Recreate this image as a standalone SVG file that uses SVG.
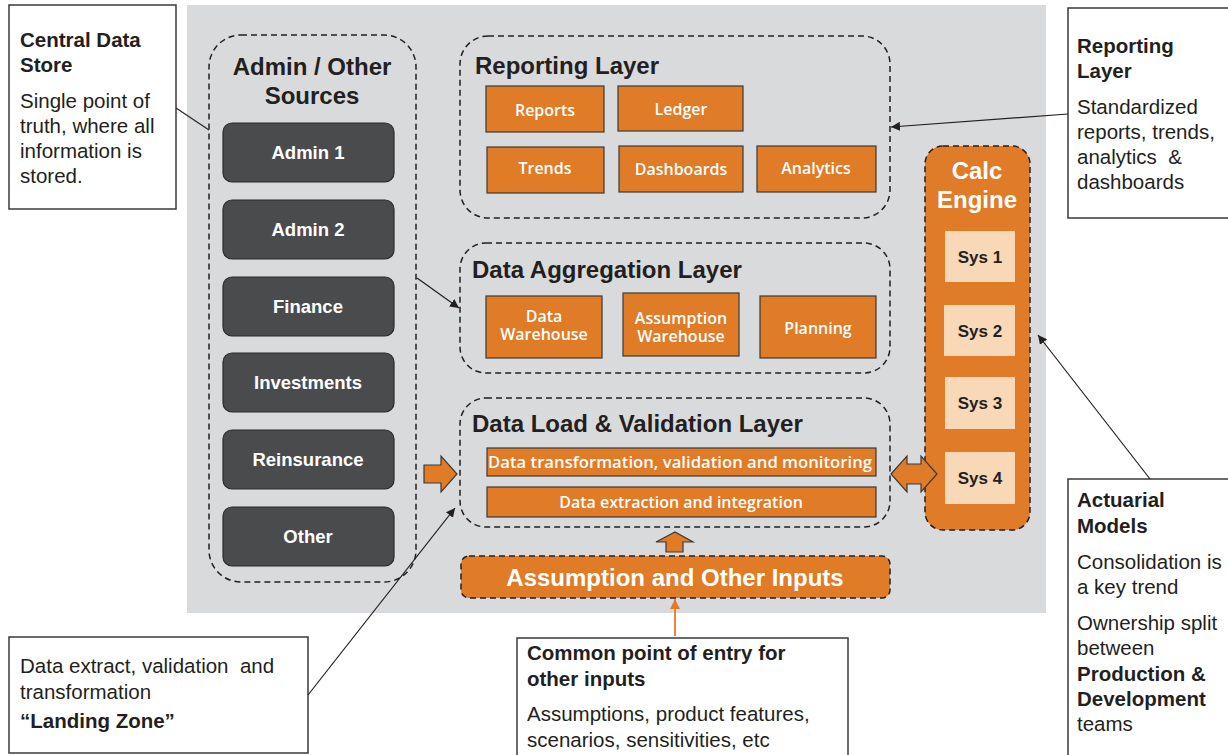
<svg xmlns="http://www.w3.org/2000/svg" width="1228" height="755" viewBox="0 0 1228 755">
<defs>
<marker id="ah" viewBox="0 0 10 10" refX="10" refY="5" markerWidth="9" markerHeight="9" markerUnits="userSpaceOnUse" orient="auto"><path d="M0,0 L10,5 L0,10 z" fill="#231f20"/></marker>
<marker id="ahO" viewBox="0 0 10 10" refX="10" refY="5" markerWidth="10" markerHeight="10" markerUnits="userSpaceOnUse" orient="auto"><path d="M0,0 L10,5 L0,10 z" fill="#e07b27"/></marker>
<style>
.dash{fill:none;stroke:#231f20;stroke-width:1.5;stroke-dasharray:6 4}
.dark{fill:#4a4b4d;stroke:#2b2b2b;stroke-width:1.2}
.dk{font-family:"Liberation Sans",Arial,sans-serif;font-weight:bold;font-size:18.5px;fill:#fff;text-anchor:middle}
.org{fill:#e07b27;stroke:#3a3a3a;stroke-width:1.2}
.ot{font-family:"Open Sans","Noto Sans",sans-serif;font-weight:600;font-size:16px;fill:#fff;text-anchor:middle}
.ttl{font-family:"Liberation Sans",Arial,sans-serif;font-weight:bold;font-size:24px;fill:#231f20}
.sys{fill:#f8d8b7}
.st{font-family:"Liberation Sans",Arial,sans-serif;font-weight:bold;font-size:17px;fill:#231f20;text-anchor:middle}
.cb{fill:#fff;stroke:#3a3a3a;stroke-width:1.5}
.cn{font-family:"Liberation Sans",Arial,sans-serif;font-size:20.5px;fill:#231f20}
.cbld{font-family:"Liberation Sans",Arial,sans-serif;font-size:20.5px;font-weight:bold;fill:#231f20}
.ln{fill:none;stroke:#231f20;stroke-width:1.2}
.blk{fill:#e07b27;stroke:#3a3a3a;stroke-width:1.2}
</style>
</defs>
<rect x="0" y="0" width="1228" height="755" fill="#fff"/>
<rect id="background" x="187" y="5" width="859" height="608" fill="#d9dadc"/>

<g id="admin-sources">
<rect class="dash" x="209" y="35" width="207" height="547" rx="32"/>
<text class="ttl" x="312" y="75" text-anchor="middle">Admin / Other</text>
<text class="ttl" x="312" y="104" text-anchor="middle">Sources</text>
</g>
<g id="admin1"><rect class="dark" x="223" y="123" width="171" height="59" rx="9"/><text class="dk" x="308" y="159">Admin 1</text></g>
<g id="admin2"><rect class="dark" x="223" y="200" width="171" height="59" rx="9"/><text class="dk" x="308" y="236">Admin 2</text></g>
<g id="finance"><rect class="dark" x="223" y="277" width="171" height="59" rx="9"/><text class="dk" x="308" y="313">Finance</text></g>
<g id="investments"><rect class="dark" x="223" y="353" width="171" height="59" rx="9"/><text class="dk" x="308" y="389">Investments</text></g>
<g id="reinsurance"><rect class="dark" x="223" y="430" width="171" height="59" rx="9"/><text class="dk" x="308" y="466">Reinsurance</text></g>
<g id="other"><rect class="dark" x="223" y="507" width="171" height="59" rx="9"/><text class="dk" x="308" y="543">Other</text></g>

<g id="reporting-layer">
<rect class="dash" x="460" y="36" width="430" height="182" rx="28"/>
<text class="ttl" x="475" y="74">Reporting Layer</text>
</g>
<g id="reports"><rect class="org" x="486" y="86" width="118" height="46"/><text class="ot" x="545" y="116">Reports</text></g>
<g id="ledger"><rect class="org" x="618" y="86" width="125" height="45"/><text class="ot" x="681" y="115">Ledger</text></g>
<g id="trends"><rect class="org" x="487" y="147" width="117" height="46"/><text class="ot" x="545" y="174">Trends</text></g>
<g id="dashboards"><rect class="org" x="619" y="146" width="124" height="46"/><text class="ot" x="681" y="175">Dashboards</text></g>
<g id="analytics"><rect class="org" x="757" y="146" width="119" height="46"/><text class="ot" x="816" y="174">Analytics</text></g>

<g id="aggregation-layer">
<rect class="dash" x="460" y="243" width="430" height="130" rx="26"/>
<text class="ttl" x="472" y="278">Data Aggregation Layer</text>
</g>
<g id="data-warehouse"><rect class="org" x="486" y="296" width="116" height="62"/><text class="ot" x="544" y="322">Data<tspan x="544" dy="18">Warehouse</tspan></text></g>
<g id="assumption-warehouse"><rect class="org" x="623" y="293" width="116" height="63"/><text class="ot" x="681" y="324">Assumption<tspan x="681" dy="18">Warehouse</tspan></text></g>
<g id="planning"><rect class="org" x="760" y="296" width="116" height="62"/><text class="ot" x="818" y="334">Planning</text></g>

<g id="load-layer">
<rect class="dash" x="460" y="398" width="430" height="129" rx="26"/>
<text class="ttl" x="472" y="432">Data Load &amp; Validation Layer</text>
</g>
<g id="transformation"><rect class="org" x="487" y="448" width="389" height="28"/><text class="ot" x="680" y="468" textLength="384" lengthAdjust="spacingAndGlyphs">Data transformation, validation and monitoring</text></g>
<g id="extraction"><rect class="org" x="487" y="487" width="389" height="30"/><text class="ot" x="681" y="508">Data extraction and integration</text></g>

<g id="assumption-inputs">
<rect x="461" y="556" width="429" height="42" rx="8" fill="#e07b27" stroke="#231f20" stroke-width="1.5" stroke-dasharray="6 4"/>
<text class="ttl" x="675" y="586" text-anchor="middle" style="fill:#fff">Assumption and Other Inputs</text>
</g>

<g id="calc-engine">
<rect x="925" y="146" width="105" height="384" rx="18" fill="#e07b27" stroke="#231f20" stroke-width="1.5" stroke-dasharray="6 4"/>
<text class="ttl" x="977" y="179" text-anchor="middle" style="fill:#fff">Calc</text>
<text class="ttl" x="977" y="208" text-anchor="middle" style="fill:#fff">Engine</text>
</g>
<g id="sys1"><rect class="sys" x="945" y="231" width="70" height="51"/><text class="st" x="980" y="263">Sys 1</text></g>
<g id="sys2"><rect class="sys" x="944" y="305" width="71" height="51"/><text class="st" x="980" y="337">Sys 2</text></g>
<g id="sys3"><rect class="sys" x="945" y="377" width="70" height="52"/><text class="st" x="980" y="409">Sys 3</text></g>
<g id="sys4"><rect class="sys" x="945" y="452" width="70" height="52"/><text class="st" x="980" y="484">Sys 4</text></g>

<g id="callout-central">
<rect class="cb" x="9" y="5" width="167" height="204"/>
<text class="cbld" x="20" y="47">Central Data</text>
<text class="cbld" x="20" y="72">Store</text>
<text class="cn" x="20" y="108">Single point of</text>
<text class="cn" x="20" y="133">truth, where all</text>
<text class="cn" x="20" y="158">information is</text>
<text class="cn" x="20" y="183">stored.</text>
</g>

<g id="callout-reporting">
<rect class="cb" x="1068" y="8" width="165" height="210"/>
<text class="cbld" x="1077" y="53">Reporting</text>
<text class="cbld" x="1077" y="78">Layer</text>
<text class="cn" x="1077" y="114">Standardized</text>
<text class="cn" x="1077" y="139">reports, trends,</text>
<text class="cn" x="1077" y="164" xml:space="preserve">analytics  &amp;</text>
<text class="cn" x="1077" y="189">dashboards</text>
</g>

<g id="callout-actuarial">
<rect class="cb" x="1068" y="479" width="165" height="282"/>
<text class="cbld" x="1077" y="507">Actuarial</text>
<text class="cbld" x="1077" y="533">Models</text>
<text class="cn" x="1077" y="569">Consolidation is</text>
<text class="cn" x="1077" y="594">a key trend</text>
<text class="cn" x="1077" y="630">Ownership split</text>
<text class="cn" x="1077" y="655">between</text>
<text class="cbld" x="1077" y="681">Production &amp;</text>
<text class="cbld" x="1077" y="706">Development</text>
<text class="cn" x="1077" y="731">teams</text>
</g>

<g id="callout-landing">
<rect class="cb" x="9" y="637" width="299" height="116"/>
<text class="cn" x="20" y="673" xml:space="preserve">Data extract, validation  and</text>
<text class="cn" x="20" y="699">transformation</text>
<text class="cbld" x="20" y="728">“Landing Zone”</text>
</g>

<g id="callout-common">
<rect class="cb" x="517" y="638" width="331" height="120"/>
<text class="cbld" x="527" y="660">Common point of entry for</text>
<text class="cbld" x="527" y="686">other inputs</text>
<text class="cn" x="527" y="721">Assumptions, product features,</text>
<text class="cn" x="527" y="747">scenarios, sensitivities, etc</text>
</g>

<g id="connectors">
<line class="ln" x1="176" y1="108" x2="209" y2="130"/>
<line class="ln" x1="417" y1="278" x2="459" y2="308" marker-end="url(#ah)"/>
<line class="ln" x1="1068" y1="114" x2="891" y2="127" marker-end="url(#ah)"/>
<line class="ln" x1="1150" y1="479" x2="1038" y2="335" marker-end="url(#ah)"/>
<line class="ln" x1="308" y1="695" x2="455" y2="508" marker-end="url(#ah)"/>
<line x1="675" y1="636" x2="675" y2="599" stroke="#e07b27" stroke-width="1.8" marker-end="url(#ahO)"/>
<path class="blk" d="M424,465 L441,465 L441,456 L457,474 L441,492 L441,483 L424,483 Z"/>
<path class="blk" d="M891,474 L907,456 L907,464 L921,464 L921,456 L937,474 L921,492 L921,484 L907,484 L907,492 Z"/>
<path class="blk" d="M666,552 L666,542 L656,542 L675,532 L693,542 L683,542 L683,552 Z"/>
</g>
</svg>
